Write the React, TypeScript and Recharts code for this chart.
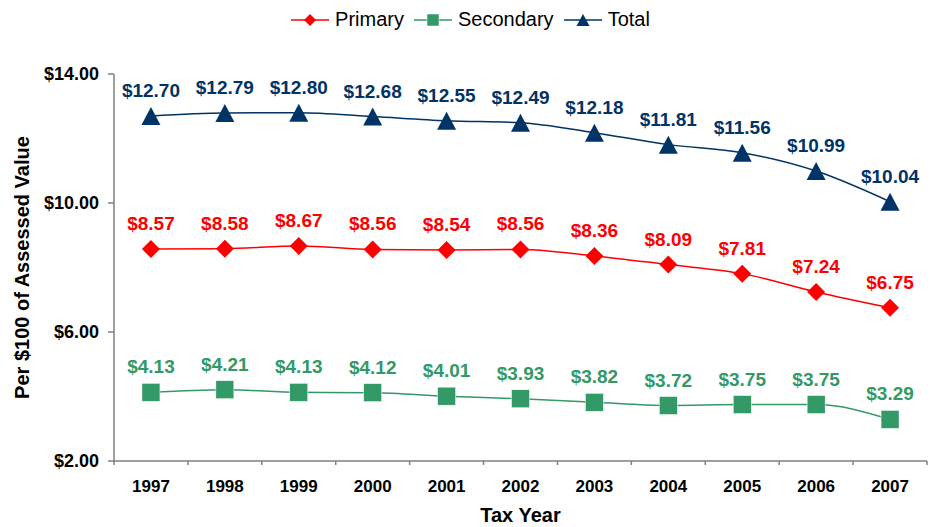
import { LineChart, Line, XAxis, YAxis, Legend, LabelList } from 'recharts'

const years = ['1997', '1998', '1999', '2000', '2001', '2002', '2003', '2004', '2005', '2006', '2007']
const primary = [8.57, 8.58, 8.67, 8.56, 8.54, 8.56, 8.36, 8.09, 7.81, 7.24, 6.75]
const secondary = [4.13, 4.21, 4.13, 4.12, 4.01, 3.93, 3.82, 3.72, 3.75, 3.75, 3.29]
const total = [12.7, 12.79, 12.8, 12.68, 12.55, 12.49, 12.18, 11.81, 11.56, 10.99, 10.04]
const yTicks = [2, 6, 10, 14]

const FONT = '"Liberation Sans", Arial, Helvetica, sans-serif'
const RED = '#FF0000'
const GREEN = '#339966'
const NAVY = '#003366'

const W = 935
const H = 527
const PLOT_LEFT = 114
const PLOT_RIGHT = 8
const BAND = (W - PLOT_LEFT - PLOT_RIGHT) / years.length

const data = years.map((year, i) => ({
  year,
  primary: primary[i],
  secondary: secondary[i],
  total: total[i],
}))

const money = (v: number) => `$${Number(v).toFixed(2)}`

function Diamond({ cx, cy, size = 9 }: any) {
  const r = size
  return <polygon points={`${cx},${cy - r} ${cx + r},${cy} ${cx},${cy + r} ${cx - r},${cy}`} fill={RED} />
}
function Square({ cx, cy, size = 9 }: any) {
  const r = size
  return <rect x={cx - r} y={cy - r} width={r * 2} height={r * 2} fill={GREEN} stroke="#ffffff" strokeWidth={0.5} />
}
function Triangle({ cx, cy, size = 9 }: any) {
  const r = size
  return <polygon points={`${cx},${cy - r} ${cx + r + 0.5},${cy + r} ${cx - r - 0.5},${cy + r}`} fill={NAVY} />
}

function YearTick({ x, y, payload, index }: any) {
  const axisY = y - 19
  const left = x - BAND / 2
  const right = x + BAND / 2
  return (
    <g>
      <line x1={left} y1={axisY} x2={left} y2={axisY + 4} stroke="#808080" strokeWidth={1.5} />
      {index === years.length - 1 && (
        <line x1={right} y1={axisY} x2={right} y2={axisY + 4} stroke="#808080" strokeWidth={1.5} />
      )}
      <text x={x} y={y + 12} textAnchor="middle" fontFamily={FONT} fontWeight="bold" fontSize={17} fill="#000">
        {payload.value}
      </text>
    </g>
  )
}

const legendItems = [
  { name: 'Primary', color: RED, Marker: Diamond, size: 6 },
  { name: 'Secondary', color: GREEN, Marker: Square, size: 6 },
  { name: 'Total', color: NAVY, Marker: Triangle, size: 6 },
]

function LegendContent() {
  return (
    <div style={{ display: 'flex', justifyContent: 'center', alignItems: 'center', fontFamily: FONT, fontSize: 20, color: '#000', paddingLeft: 14 }}>
      {legendItems.map(({ name, color, Marker, size }) => (
        <div key={name} style={{ display: 'flex', alignItems: 'center', marginRight: 9 }}>
          <svg width={40} height={20} style={{ marginRight: 5 }}>
            <line x1={1} y1={10} x2={39} y2={10} stroke={color} strokeWidth={1.5} />
            <Marker cx={20} cy={10} size={size} />
          </svg>
          <span>{name}</span>
        </div>
      ))}
    </div>
  )
}

const labelStyle = { fontFamily: FONT, fontWeight: 'bold' as const, fontSize: 19 }
const titleStyle = { fontFamily: FONT, fontWeight: 'bold' as const, fontSize: 20, fill: '#000' }

export default function App() {
  return (
    <div style={{ position: 'absolute', left: 0, top: 0, width: W, height: H, background: '#fff' }}>
      <LineChart width={W} height={H} data={data} margin={{ top: 74, right: PLOT_RIGHT, bottom: 0, left: 0 }}>
        <Legend
          verticalAlign="middle"
          align="center"
          layout="horizontal"
          content={<LegendContent />}
          wrapperStyle={{ top: 8, left: 0, width: W }}
        />
        <XAxis
          dataKey="year"
          height={66}
          padding={{ left: BAND / 2, right: BAND / 2 }}
          tickLine={false}
          tickSize={4}
          tickMargin={15}
          interval={0}
          axisLine={{ stroke: '#808080', strokeWidth: 1.5 }}
          tick={<YearTick />}
          label={{ value: 'Tax Year', position: 'center', dy: 21, style: titleStyle }}
        />
        <YAxis
          width={PLOT_LEFT}
          domain={[2, 14]}
          ticks={yTicks}
          tickFormatter={money}
          tickSize={6}
          tickMargin={9}
          axisLine={{ stroke: '#808080', strokeWidth: 1.5 }}
          tickLine={{ stroke: '#808080', strokeWidth: 1.5 }}
          tick={{ fontFamily: FONT, fontWeight: 'bold', fontSize: 18, fill: '#000' }}
          label={{ value: 'Per $100 of Assessed Value', angle: -90, position: 'center', dx: -35, style: titleStyle }}
        />
        <Line
          type="monotone"
          dataKey="primary"
          name="Primary"
          stroke={RED}
          strokeWidth={1.5}
          dot={<Diamond />}
          isAnimationActive={false}
        >
          <LabelList dataKey="primary" position="top" offset={19} formatter={money} fill={RED} style={labelStyle} />
        </Line>
        <Line
          type="monotone"
          dataKey="secondary"
          name="Secondary"
          stroke={GREEN}
          strokeWidth={1.5}
          dot={<Square />}
          isAnimationActive={false}
        >
          <LabelList dataKey="secondary" position="top" offset={19} formatter={money} fill={GREEN} style={labelStyle} />
        </Line>
        <Line
          type="monotone"
          dataKey="total"
          name="Total"
          stroke={NAVY}
          strokeWidth={1.5}
          dot={<Triangle />}
          isAnimationActive={false}
        >
          <LabelList dataKey="total" position="top" offset={19} formatter={money} fill={NAVY} style={labelStyle} />
        </Line>
      </LineChart>
    </div>
  )
}
